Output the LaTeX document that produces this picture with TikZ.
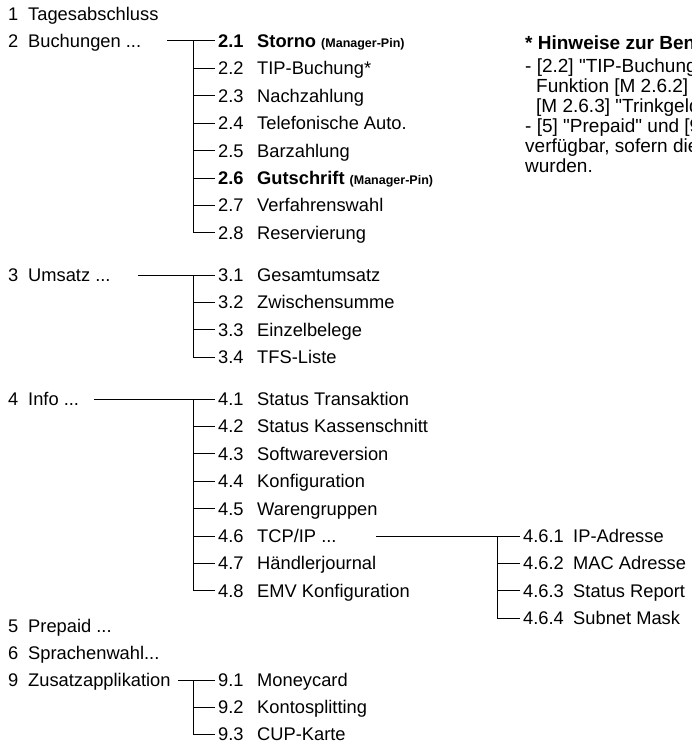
\documentclass[tikz,border=0pt]{standalone}
\usepackage{fontspec}
\setmainfont{Liberation Sans}[Ligatures=TeXOff]
\newcommand{\pin}{{\fontsize{12.5}{12.5}\selectfont\bfseries (Manager-Pin)}}
\begin{document}
\begin{tikzpicture}[x=1pt, y=-1pt,
    item/.style={anchor=west, inner ysep=0pt, inner xsep=0pt, text height=13pt, text depth=0pt, font=\fontsize{18.3}{18}\selectfont},
    num/.style={item, inner xsep=3pt},
    tree/.style={black, line width=1pt}]
    \useasboundingbox (0,0) rectangle (692,752);
    \clip (0,0) rectangle (692,752);

    % Main menu
    \foreach \id/\n/\txt/\y in {a1/1/Tagesabschluss/14, a2/2/{Buchungen ...}/41, a3/3/{Umsatz ...}/275,
        a4/4/{Info ...}/399, a5/5/{Prepaid ...}/626, a6/6/{Sprachenwahl...}/653, a9/9/Zusatzapplikation/680} {
        \node[item] (\id) at (8, \y) {\n};
        \node[item] (\id-t) at (28, \y) {\txt};
    }

    % Submenus: number at x=215, text at x=257
    \foreach \id/\n/\txt/\y in {b21/{\bfseries 2.1}/{\bfseries Storno \pin}/41, b22/2.2/TIP-Buchung*/68.4,
        b23/2.3/Nachzahlung/95.8, b24/2.4/Telefonische Auto./123.2, b25/2.5/Barzahlung/150.6,
        b26/{\bfseries 2.6}/{\bfseries Gutschrift \pin}/178, b27/2.7/Verfahrenswahl/205.4, b28/2.8/Reservierung/232.8,
        b31/3.1/Gesamtumsatz/275, b32/3.2/Zwischensumme/302.4, b33/3.3/Einzelbelege/329.8, b34/3.4/TFS-Liste/357.2,
        b41/4.1/Status Transaktion/399, b42/4.2/Status Kassenschnitt/426.4, b43/4.3/Softwareversion/453.8,
        b44/4.4/Konfiguration/481.2, b45/4.5/Warengruppen/508.6, b46/4.6/{TCP/IP ...}/536,
        b47/4.7/Händlerjournal/563.4, b48/4.8/EMV Konfiguration/590.8,
        b91/9.1/Moneycard/680, b92/9.2/Kontosplitting/707, b93/9.3/CUP-Karte/734} {
        \node[num] (\id) at (215, \y) {\n};
        \node[item] (\id-t) at (257, \y) {\txt};
    }

    % TCP/IP submenu: number at x=520, text at x=573
    \foreach \id/\n/\txt/\y in {c1/4.6.1/IP-Adresse/536, c2/4.6.2/MAC Adresse/563.4,
        c3/4.6.3/Status Report/590.8, c4/4.6.4/Subnet Mask/618.2} {
        \node[num] (\id) at (520, \y) {\n};
        \node[item] (\id-t) at (573, \y) {\txt};
    }

    % Tree lines
    \coordinate (s2) at (b21.west -| 167,0);
    \coordinate (s3) at (b31.west -| 138,0);
    \coordinate (s4) at (b41.west -| 94,0);
    \coordinate (s9) at (b91.west -| 178,0);
    \coordinate (s46) at (c1.west -| 376,0);
    \coordinate (t2) at (b21.west -| 193,0);
    \coordinate (t3) at (b31.west -| 193,0);
    \coordinate (t4) at (b41.west -| 193,0);
    \coordinate (t9) at (b91.west -| 193,0);
    \coordinate (t46) at (c1.west -| 497,0);

    \draw[tree] (s2) -- (b21.west);
    \draw[tree] (t2) |- (b28.west);
    \foreach \k in {2,...,7} \draw[tree] (t2 |- b2\k.west) -- (b2\k.west);

    \draw[tree] (s3) -- (b31.west);
    \draw[tree] (t3) |- (b34.west);
    \foreach \k in {2,3} \draw[tree] (t3 |- b3\k.west) -- (b3\k.west);

    \draw[tree] (s4) -- (b41.west);
    \draw[tree] (t4) |- (b48.west);
    \foreach \k in {2,...,7} \draw[tree] (t4 |- b4\k.west) -- (b4\k.west);

    \draw[tree] (s9) -- (b91.west);
    \draw[tree] (t9) |- (b93.west);
    \draw[tree] (t9 |- b92.west) -- (b92.west);

    \draw[tree] (s46) -- (c1.west);
    \draw[tree] (t46) |- (c4.west);
    \foreach \k in {2,3} \draw[tree] (t46 |- c\k.west) -- (c\k.west);

    % Hinweise
    \node[anchor=north west, inner sep=0pt, align=left, font=\fontsize{19}{20}\selectfont] (note) at (525, 36) {%
        {\bfseries * Hinweise zur Benutzung}\\[3pt]
        - [2.2] "TIP-Buchung" ist nur verfügbar, wenn die\\
        \hspace*{11pt}Funktion [M 2.6.2] "Trinkgeld" bzw.\\
        \hspace*{11pt}[M 2.6.3] "Trinkgeld-Abfrage" aktiv ist.\\
        - [5] "Prepaid" und [9] "Zusatzapplikation" sind nur\\
        verfügbar, sofern diese am Terminal freigeschaltet\\
        wurden.};
\end{tikzpicture}
\end{document}
